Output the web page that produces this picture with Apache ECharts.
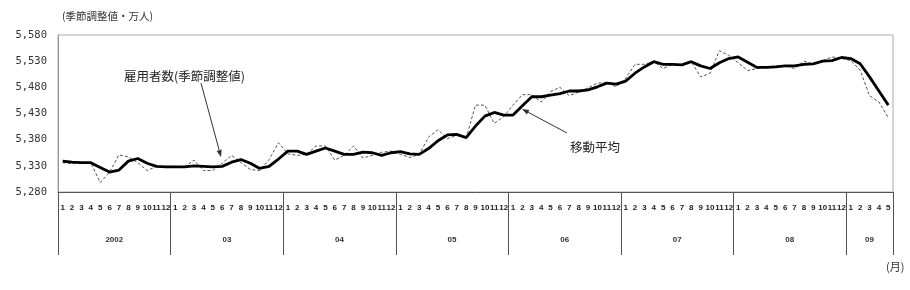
<!DOCTYPE html>
<html>
<head>
<meta charset="utf-8">
<script src="https://cdn.jsdelivr.net/npm/echarts@6/dist/echarts.min.js"></script>
<style>
html,body{margin:0;padding:0;background:#fff;}
#chart{width:910px;height:290px;}
</style>
</head>
<body>
<div id="chart"></div>
<script>
// ---- data ----
const yearLabels = ['2002', '03', '04', '05', '06', '07', '08', '09'];
const monthsInYear = [12, 12, 12, 12, 12, 12, 12, 5];
const yTicks = [5280, 5330, 5380, 5430, 5480, 5530, 5580];

// 雇用者数（季節調整値）
const saValues = [
  5336, 5334, 5336, 5336, 5298, 5318, 5351, 5347, 5336, 5321, 5329, 5329,
  5329, 5328, 5341, 5321, 5321, 5335, 5350, 5336, 5323, 5321, 5342, 5374,
  5353, 5350, 5352, 5368, 5368, 5341, 5350, 5368, 5345, 5350, 5356, 5358,
  5352, 5346, 5352, 5385, 5399, 5382, 5388, 5383, 5446, 5446, 5411, 5424,
  5446, 5466, 5466, 5452, 5472, 5480, 5464, 5471, 5479, 5488, 5489, 5481,
  5497, 5524, 5524, 5529, 5516, 5524, 5523, 5529, 5500, 5507, 5550, 5541,
  5527, 5512, 5516, 5519, 5521, 5521, 5516, 5530, 5525, 5531, 5538, 5536,
  5531, 5513, 5464, 5452, 5422
];
// 移動平均
const maValues = [
  5339, 5337, 5336, 5336, 5327, 5318, 5322, 5339, 5344, 5335, 5329, 5328,
  5328, 5328, 5330, 5329, 5328, 5329, 5337, 5342, 5335, 5325, 5329, 5343,
  5358, 5358, 5352, 5358, 5364, 5358, 5352, 5352, 5356, 5355, 5350, 5355,
  5357, 5353, 5352, 5363, 5378, 5389, 5390, 5384, 5406, 5425, 5432, 5427,
  5427, 5445, 5462, 5462, 5465, 5468, 5473, 5473, 5475, 5481, 5488, 5486,
  5492, 5507, 5519, 5529, 5524, 5524, 5523, 5529, 5521, 5516, 5527, 5535,
  5538, 5528, 5518, 5518, 5519, 5521, 5521, 5524, 5525, 5530, 5531, 5537,
  5535, 5525, 5500, 5473, 5446
];

// ---- derived category structure ----
const monthCats = [];
const yearBounds = [0];
const yearCenters = [];
let acc = 0;
monthsInYear.forEach(function (n) {
  for (let m = 1; m <= n; m++) monthCats.push(String(m));
  yearCenters.push(acc + n / 2);
  acc += n;
  yearBounds.push(acc);
});
const total = monthCats.length;

const chart = echarts.init(document.getElementById('chart'), null, { renderer: 'canvas' });
const CJK = '"Noto Sans CJK JP", sans-serif';

function arrow(x1, y1, x2, y2) {
  const dx = x2 - x1, dy = y2 - y1;
  const len = Math.sqrt(dx * dx + dy * dy);
  const ux = dx / len, uy = dy / len;
  const hl = 7, hw = 2.6;
  const bx = x2 - ux * hl, by = y2 - uy * hl;
  const px = -uy * hw, py = ux * hw;
  return [
    { type: 'line', shape: { x1: x1, y1: y1, x2: bx, y2: by }, style: { stroke: '#333', lineWidth: 1 }, z: 10 },
    { type: 'polygon', shape: { points: [[x2, y2], [bx + px, by + py], [bx - px, by - py]] }, style: { fill: '#333' }, z: 10 }
  ];
}

const option = {
  animation: false,
  backgroundColor: '#fff',
  grid: {
    left: 58, right: 17, top: 35, bottom: 98,
    show: true, borderColor: '#aaa', borderWidth: 1, backgroundColor: 'transparent'
  },
  xAxis: [
    {
      type: 'category',
      data: monthCats,
      boundaryGap: true,
      position: 'bottom',
      axisLine: { show: true, lineStyle: { color: '#555', width: 1 } },
      axisTick: { show: false },
      splitLine: { show: false },
      axisLabel: {
        interval: 0, margin: 12, fontSize: 8, fontWeight: 'bold',
        fontFamily: 'Liberation Sans, Arial, sans-serif', color: '#222'
      }
    },
    {
      type: 'value',
      min: 0, max: total,
      position: 'bottom',
      axisLine: { show: false },
      splitLine: { show: false },
      axisTick: {
        show: true, customValues: yearBounds, length: 63,
        lineStyle: { color: '#555', width: 1 }
      },
      axisLabel: {
        customValues: yearCenters,
        margin: 44, fontSize: 8, fontWeight: 'bold',
        fontFamily: 'Liberation Sans, Arial, sans-serif', color: '#333',
        formatter: function (v) {
          const i = yearCenters.indexOf(v);
          return i >= 0 ? yearLabels[i] : '';
        }
      }
    }
  ],
  yAxis: {
    type: 'value',
    min: yTicks[0], max: yTicks[yTicks.length - 1], interval: 50,
    axisLine: { show: true, lineStyle: { color: '#999', width: 1 } },
    axisTick: { show: false },
    splitLine: { show: false },
    axisLabel: {
      margin: 11, fontSize: 10.5, color: '#333',
      fontFamily: '"DejaVu Sans Mono", monospace',
      formatter: function (v) { return String(v).replace(/\B(?=(\d{3})+(?!\d))/g, ','); }
    }
  },
  series: [
    {
      name: '雇用者数(季節調整値)', type: 'line', data: saValues,
      xAxisIndex: 0, yAxisIndex: 0,
      symbol: 'none', smooth: false, z: 2,
      lineStyle: { color: '#555', width: 1, type: [3, 2] }
    },
    {
      name: '移動平均', type: 'line', data: maValues,
      xAxisIndex: 0, yAxisIndex: 0,
      symbol: 'none', smooth: false, z: 3,
      lineStyle: { color: '#000', width: 2.8 }
    }
  ],
  graphic: [
    { type: 'text', x: 62, y: 16, style: { text: '(季節調整値・万人)', fontSize: 10.5, fontFamily: CJK, fill: '#333', align: 'left', verticalAlign: 'middle' } },
    { type: 'text', x: 886, y: 267, style: { text: '(月)', fontSize: 11, fontFamily: CJK, fill: '#333', align: 'left', verticalAlign: 'middle' } },
    { type: 'text', x: 124, y: 76, style: { text: '雇用者数(季節調整値)', fontSize: 12.5, fontFamily: CJK, fill: '#222', align: 'left', verticalAlign: 'middle' } },
    { type: 'text', x: 570, y: 147, style: { text: '移動平均', fontSize: 12.5, fontFamily: CJK, fill: '#222', align: 'left', verticalAlign: 'middle' } }
  ].concat(arrow(201, 83, 221, 157)).concat(arrow(567, 133, 522, 109))
};

chart.setOption(option);
</script>
</body>
</html>
